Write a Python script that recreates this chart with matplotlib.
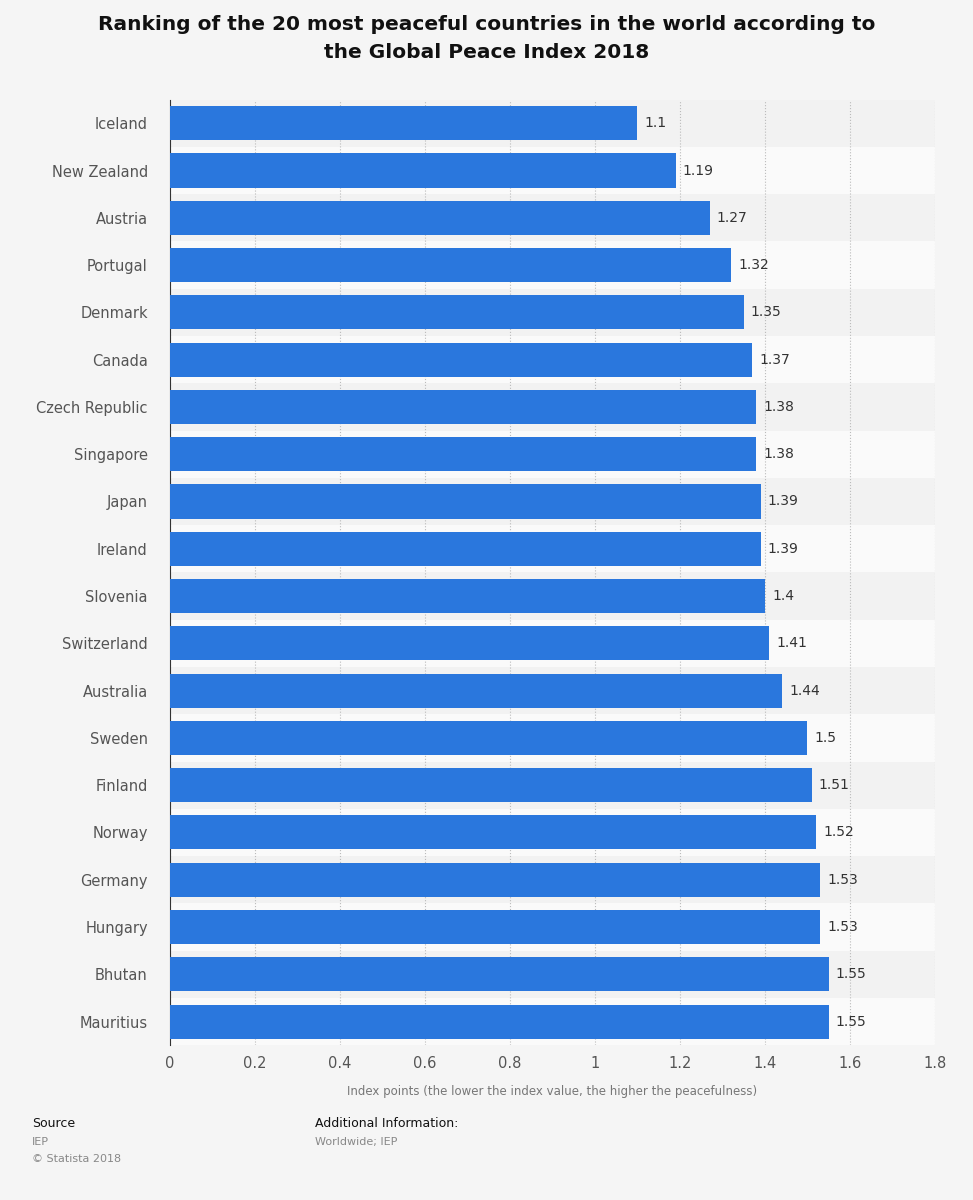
import matplotlib.pyplot as plt
import numpy as np

plt.rcParams['font.family'] = ['DejaVu Sans']

countries = ['Iceland', 'New Zealand', 'Austria', 'Portugal', 'Denmark', 'Canada',
             'Czech Republic', 'Singapore', 'Japan', 'Ireland', 'Slovenia', 'Switzerland',
             'Australia', 'Sweden', 'Finland', 'Norway', 'Germany', 'Hungary', 'Bhutan', 'Mauritius']
scores = [1.1, 1.19, 1.27, 1.32, 1.35, 1.37, 1.38, 1.38, 1.39, 1.39, 1.4, 1.41,
          1.44, 1.5, 1.51, 1.52, 1.53, 1.53, 1.55, 1.55]
ticks = [0, 0.2, 0.4, 0.6, 0.8, 1, 1.2, 1.4, 1.6, 1.8]

fig = plt.figure(figsize=(9.73, 12.0), dpi=100, facecolor='#f5f5f5')
ax = fig.add_axes([0.1747, 0.129, 0.786, 0.788])
ax.set_facecolor('#f5f5f5')

y = np.arange(len(countries))
for i in y:
    ax.axhspan(i - 0.5, i + 0.5, color='#fafafa' if i % 2 else '#f2f2f2', zorder=0, lw=0)

ax.barh(y, scores, height=0.72, color='#2a77dd', zorder=3)
for i, v in enumerate(scores):
    ax.text(v + 0.017, i, f"{v:g}", va='center', ha='left', fontsize=10, color='#333333', zorder=4)

ax.set_ylim(len(countries) - 0.5, -0.5)
ax.set_xlim(0, 1.8)
ax.set_xticks(ticks)
ax.set_xticklabels([f"{t:g}" for t in ticks])
ax.set_yticks(y)
ax.set_yticklabels(countries)
ax.tick_params(axis='both', length=0, labelsize=10.5, labelcolor='#555555', pad=16)
ax.tick_params(axis='x', pad=8)
ax.grid(axis='x', linestyle=':', color='#bbbbbb', zorder=1)
for s in ['top', 'right', 'bottom']:
    ax.spines[s].set_visible(False)
ax.spines['left'].set_color('#333333')
ax.set_xlabel('Index points (the lower the index value, the higher the peacefulness)',
              fontsize=8.5, color='#777777', labelpad=10)

fig.text(0.5, 0.968, 'Ranking of the 20 most peaceful countries in the world according to\nthe Global Peace Index 2018',
         ha='center', va='center', fontsize=14.5, fontweight='bold', color='#111111', linespacing=1.6)

fig.text(0.033, 0.061, 'Source', fontsize=9, color='#111111')
fig.text(0.033, 0.046, 'IEP', fontsize=8, color='#888888')
fig.text(0.033, 0.032, '© Statista 2018', fontsize=8, color='#888888')
fig.text(0.324, 0.061, 'Additional Information:', fontsize=9, color='#111111')
fig.text(0.324, 0.046, 'Worldwide; IEP', fontsize=8, color='#888888')

fig.savefig('out.png', dpi=100, facecolor=fig.get_facecolor())
